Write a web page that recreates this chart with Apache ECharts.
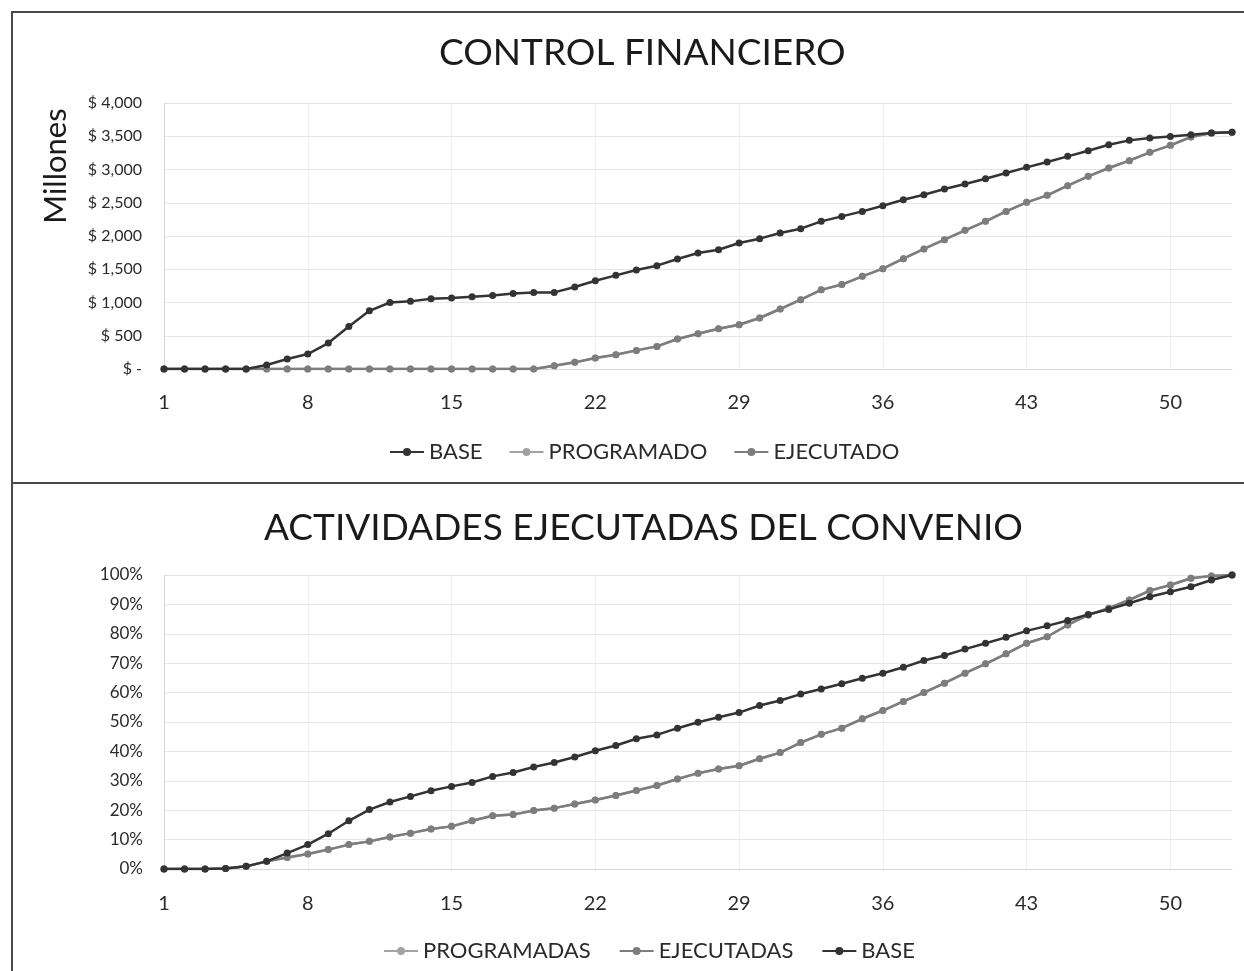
<!DOCTYPE html>
<html>
<head>
<meta charset="utf-8">
<script src="https://cdn.jsdelivr.net/npm/echarts@6/dist/echarts.min.js"></script>
<style>
  html, body { margin: 0; padding: 0; background: #fff; }
  #frame {
    position: absolute; left: 11px; top: 11px; width: 1240px; height: 970px;
    border-left: 2px solid #4a4a4a; border-top: 2px solid #4a4a4a;
  }
  #divider {
    position: absolute; left: 11px; top: 482px; width: 1240px; height: 2px;
    background: #4a4a4a;
  }
  #main { position: absolute; left: 0; top: 0; width: 1244px; height: 971px; }
</style>
</head>
<body>
<div id="frame"></div>
<div id="divider"></div>
<div id="main"></div>
<script>
// semanas
const weeks = [1, 2, 3, 4, 5, 6, 7, 8, 9, 10, 11, 12, 13, 14, 15, 16, 17, 18, 19, 20,
  21, 22, 23, 24, 25, 26, 27, 28, 29, 30, 31, 32, 33, 34, 35, 36, 37, 38, 39, 40,
  41, 42, 43, 44, 45, 46, 47, 48, 49, 50, 51, 52, 53]

// control financiero (millones)
const finBase = [0, 0, 0, 0, 0, 60, 150, 225, 390, 640, 875, 1000, 1017, 1055, 1068, 1087,
  1107, 1135, 1150, 1152, 1233, 1328, 1408, 1489, 1554, 1654, 1745, 1794, 1895, 1960,
  2045, 2110, 2220, 2295, 2370, 2456, 2546, 2621, 2707, 2782, 2862, 2948, 3032, 3113,
  3198, 3283, 3373, 3438, 3474, 3498, 3524, 3549, 3559]
const finProgramado = [0, 0, 0, 0, 0, 0, 0, 0, 0, 0, 0, 0, 0, 0, 0, 0, 0, 0, 0, 50, 100,
  165, 215, 280, 340, 451, 531, 606, 666, 767, 902, 1042, 1190, 1270, 1393, 1509, 1659,
  1805, 1945, 2085, 2220, 2370, 2506, 2611, 2757, 2897, 3023, 3133, 3258, 3363, 3489,
  3549, 3559]
const finEjecutado = [0, 0, 0, 0, 0, 0, 0, 0, 0, 0, 0, 0, 0, 0, 0, 0, 0, 0, 0, 50, 100,
  165, 215, 280, 340, 451, 531, 606, 666, 767, 902, 1042, 1190, 1270, 1393, 1509, 1659,
  1805, 1945, 2085, 2220, 2370, 2506, 2611, 2757, 2897, 3023, 3133, 3258, 3363, 3489,
  3549, 3559]
const finTicks = [0, 500, 1000, 1500, 2000, 2500, 3000, 3500, 4000]

// actividades (%)
const actProgramadas = [0, 0, 0, 0.2, 0.9, 2.6, 3.9, 5.1, 6.6, 8.3, 9.4, 10.9, 12.2, 13.6,
  14.5, 16.4, 18.1, 18.5, 19.9, 20.7, 22.1, 23.5, 25.0, 26.7, 28.4, 30.6, 32.6, 34.0,
  35.1, 37.5, 39.6, 43.0, 45.8, 47.9, 51.1, 53.9, 57.0, 60.0, 63.2, 66.6, 69.8, 73.2,
  76.8, 79.0, 83.0, 86.4, 88.7, 91.5, 94.7, 96.6, 98.9, 99.7, 100]
const actEjecutadas = [0, 0, 0, 0.2, 0.9, 2.6, 3.9, 5.1, 6.6, 8.3, 9.4, 10.9, 12.2, 13.6,
  14.5, 16.4, 18.1, 18.5, 19.9, 20.7, 22.1, 23.5, 25.0, 26.7, 28.4, 30.6, 32.6, 34.0,
  35.1, 37.5, 39.6, 43.0, 45.8, 47.9, 51.1, 53.9, 57.0, 60.0, 63.2, 66.6, 69.8, 73.2,
  76.8, 79.0, 83.0, 86.4, 88.7, 91.5, 94.7, 96.6, 98.9, 99.7, 100]
const actBase = [0, 0, 0, 0.2, 0.9, 2.6, 5.4, 8.3, 12.0, 16.4, 20.2, 22.8, 24.7, 26.6, 28.1,
  29.4, 31.5, 32.8, 34.7, 36.2, 38.1, 40.2, 42.0, 44.3, 45.6, 47.9, 49.9, 51.6, 53.2,
  55.6, 57.3, 59.5, 61.2, 63.0, 64.9, 66.6, 68.6, 70.9, 72.6, 74.8, 76.8, 78.8, 81.0,
  82.7, 84.5, 86.6, 88.3, 90.4, 92.6, 94.3, 96.0, 98.3, 100]
const actTicks = [0, 10, 20, 30, 40, 50, 60, 70, 80, 90, 100]

const FONT = 'Lato'
const DARK = '#333333'
const MID = '#7d7d7d'
const LIGHT = '#a3a3a3'

function xAxisCfg(gridIndex, margin) {
  return {
    type: 'category',
    gridIndex: gridIndex,
    data: weeks,
    boundaryGap: false,
    axisLine: { show: true, lineStyle: { color: '#d6d6d6', width: 1 } },
    axisTick: { show: false },
    axisLabel: { interval: 6, color: '#2b2b2b', fontSize: 20, fontFamily: FONT, margin: margin },
    splitLine: { show: true, interval: 6, lineStyle: { color: '#efefef', width: 1 } }
  }
}

function lineSeries(name, data, color, xi, z) {
  return {
    name: name,
    type: 'line',
    xAxisIndex: xi,
    yAxisIndex: xi,
    data: data,
    z: z,
    symbol: 'circle',
    symbolSize: 7,
    showAllSymbol: true,
    color: color,
    lineStyle: { color: color, width: 2.5 },
    itemStyle: { color: color }
  }
}

const legendText = { fontFamily: FONT, fontSize: 22, color: '#2b2b2b' }
const titleText = { fontFamily: FONT, fontSize: 37, fontWeight: 'normal', color: '#1a1a1a' }

const myChart = echarts.init(document.getElementById('main'))
myChart.setOption({
  animation: false,
  title: [
    { text: 'CONTROL FINANCIERO', left: 434, top: 30, textStyle: titleText },
    { text: 'ACTIVIDADES EJECUTADAS DEL CONVENIO', left: 259, top: 505, textStyle: titleText }
  ],
  legend: [
    {
      data: ['BASE', 'PROGRAMADO', 'EJECUTADO'],
      left: 384,
      top: 436,
      itemWidth: 34,
      itemHeight: 10,
      itemGap: 26,
      textStyle: legendText
    },
    {
      data: ['PROGRAMADAS', 'EJECUTADAS', 'BASE'],
      left: 378,
      top: 935,
      itemWidth: 34,
      itemHeight: 10,
      itemGap: 28,
      textStyle: legendText
    }
  ],
  grid: [
    { left: 164, right: 12, top: 103, height: 266 },
    { left: 164, right: 12, top: 575, height: 294 }
  ],
  xAxis: [xAxisCfg(0, 24), xAxisCfg(1, 25)],
  yAxis: [
    {
      type: 'value',
      gridIndex: 0,
      min: finTicks[0],
      max: finTicks[finTicks.length - 1],
      interval: finTicks[1] - finTicks[0],
      axisLine: { show: true, lineStyle: { color: '#d6d6d6' } },
      axisTick: { show: false },
      axisLabel: {
        color: '#2b2b2b',
        fontSize: 16,
        fontFamily: FONT,
        margin: 22,
        formatter: function (v) {
          return v === 0 ? '$ -' : '$ ' + v.toLocaleString('en-US')
        }
      },
      splitLine: { lineStyle: { color: '#e6e6e6' } }
    },
    {
      type: 'value',
      gridIndex: 1,
      min: actTicks[0],
      max: actTicks[actTicks.length - 1],
      interval: actTicks[1] - actTicks[0],
      axisLine: { show: true, lineStyle: { color: '#d6d6d6' } },
      axisTick: { show: false },
      axisLabel: {
        color: '#2b2b2b',
        fontSize: 17,
        fontFamily: FONT,
        margin: 21,
        formatter: '{value}%'
      },
      splitLine: { lineStyle: { color: '#e6e6e6' } }
    }
  ],
  graphic: [
    {
      type: 'text',
      x: 56,
      y: 166,
      rotation: Math.PI / 2,
      style: {
        text: 'Millones',
        fontFamily: FONT,
        fontSize: 31,
        fill: '#1a1a1a',
        align: 'center',
        verticalAlign: 'middle'
      }
    }
  ],
  series: [
    lineSeries('BASE', finBase, DARK, 0, 4),
    lineSeries('PROGRAMADO', finProgramado, LIGHT, 0, 2),
    lineSeries('EJECUTADO', finEjecutado, MID, 0, 3),
    lineSeries('PROGRAMADAS', actProgramadas, LIGHT, 1, 2),
    lineSeries('EJECUTADAS', actEjecutadas, MID, 1, 3),
    lineSeries('BASE', actBase, DARK, 1, 4)
  ]
})
</script>
</body>
</html>
